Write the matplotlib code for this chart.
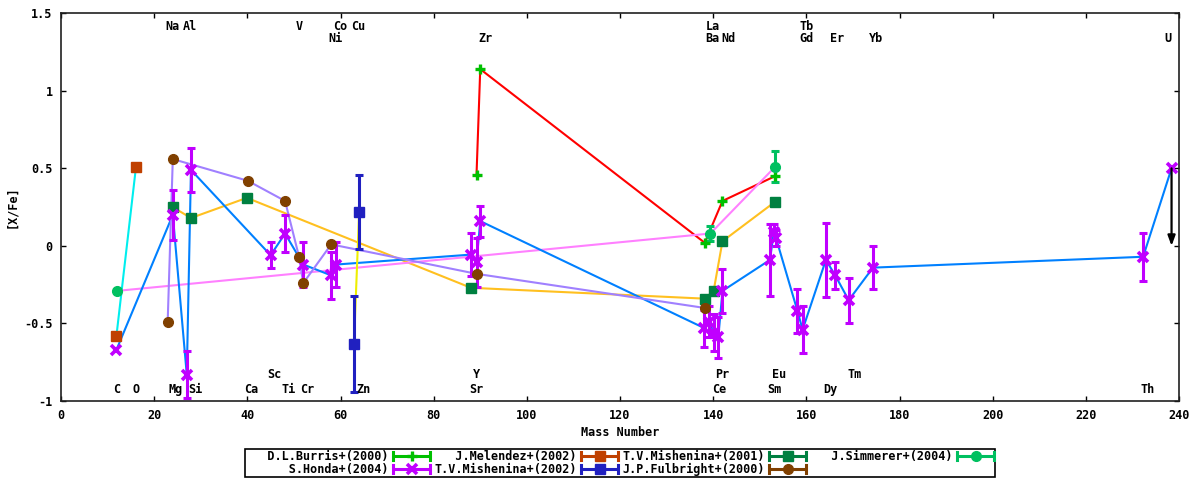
import matplotlib
matplotlib.use('Agg')
import matplotlib.pyplot as plt
import numpy as np
from matplotlib.legend_handler import HandlerBase
from matplotlib.lines import Line2D
from matplotlib.ticker import FuncFormatter

# %%
# values (x = mass number, y = [X/Fe])
burris_x = [89.2, 90.0, 138.2, 142.0, 153.3]
burris_y = [0.46, 1.14, 0.02, 0.29, 0.45]

melendez_x = [11.9, 16.1]
melendez_y = [-0.58, 0.51]

mish01_x = [24.0, 27.9, 39.9, 88.0, 138.2, 140.1, 142.0, 153.3]
mish01_y = [0.25, 0.18, 0.31, -0.27, -0.34, -0.29, 0.03, 0.285]

simmerer_x = [12.0, 139.4, 153.3]
simmerer_y = [-0.29, 0.08, 0.51]
simmerer_err = [0.0, 0.05, 0.10]

honda_x = [11.9, 24.0, 27.0, 27.9, 45.0, 48.1, 52.0, 58.0, 59.1,
           88.0, 89.2, 90.0, 138.1, 139.1, 140.1, 141.1, 142.0,
           152.2, 153.0, 153.5, 158.1, 159.2, 164.2, 166.2, 169.1, 174.3,
           232.3, 238.4]
honda_y = [-0.67, 0.20, -0.83, 0.49, -0.06, 0.08, -0.12, -0.19, -0.12,
           -0.056, -0.106, 0.16, -0.53, -0.49, -0.56, -0.59, -0.29,
           -0.09, 0.09, 0.05, -0.42, -0.54, -0.09, -0.19, -0.35, -0.14,
           -0.07, 0.50]
honda_err = [0.0, 0.16, 0.15, 0.14, 0.085, 0.12, 0.145, 0.15, 0.145,
             0.14, 0.16, 0.10, 0.12, 0.10, 0.12, 0.13, 0.14,
             0.23, 0.05, 0.05, 0.14, 0.15, 0.24, 0.085, 0.145, 0.14,
             0.155, 0.0]

mish02_x = [62.9, 64.0]
mish02_y = [-0.63, 0.22]
mish02_err = [0.31, 0.24]

fulbright_x = [22.9, 24.0, 40.1, 48.1, 51.1, 52.0, 58.0, 89.2, 138.2]
fulbright_y = [-0.49, 0.56, 0.42, 0.29, -0.07, -0.24, 0.01, -0.18, -0.40]

# U upper limit arrow
u_limit_x = 238.4
u_limit_from = 0.50
u_limit_to = 0.0

# element names and where they sit
top1_names = ['Na', 'Al', 'V', 'Co', 'Cu', 'La', 'Tb']
top1_x = [24.0, 27.7, 51.2, 60.0, 63.9, 139.9, 160.1]
top2_names = ['Ni', 'Zr', 'Ba', 'Nd', 'Gd', 'Er', 'Yb', 'U']
top2_x = [59.0, 91.1, 139.9, 143.3, 160.1, 166.6, 175.0, 237.7]
bot1_names = ['Sc', 'Y', 'Pr', 'Eu', 'Tm']
bot1_x = [45.8, 89.2, 142.0, 154.1, 170.3]
bot2_names = ['C', 'O', 'Mg', 'Si', 'Ca', 'Ti', 'Cr', 'Zn', 'Sr', 'Ce', 'Sm', 'Dy', 'Th']
bot2_x = [12.0, 16.1, 24.7, 28.8, 40.9, 48.8, 52.9, 64.9, 89.2, 141.2, 153.2, 165.2, 233.3]

x_ticks = list(range(0, 241, 20))
y_ticks = [-1, -0.5, 0, 0.5, 1, 1.5]

FONT = dict(family='DejaVu Sans Mono', weight='bold', size=8.5)


# %%
class HErrHandler(HandlerBase):
    """gnuplot style key sample: |--o--|"""

    def create_artists(self, legend, orig, xdescent, ydescent, width, height,
                       fontsize, trans):
        color = orig.get_color()
        y = (height - ydescent) / 2
        x0, x1 = -xdescent, width - xdescent
        cap = 3.0
        arts = [
            Line2D([x0, x1], [y, y], color=color, lw=2.2, solid_capstyle='butt'),
            Line2D([x0, x0], [y - cap, y + cap], color=color, lw=2.2),
            Line2D([x1, x1], [y - cap, y + cap], color=color, lw=2.2),
            Line2D([(x0 + x1) / 2], [y], ls='none', marker=orig.get_marker(),
                   ms=orig.get_markersize(), mew=orig.get_markeredgewidth(),
                   color=color),
        ]
        for a in arts:
            a.set_transform(trans)
        return arts


def plot_set(ax, x, y, mcolor, lcolor, marker, ms, err=None, mew=1.0):
    ax.plot(x, y, color=lcolor, lw=1.5, zorder=2)
    if err is not None:
        x_a, y_a, e_a = np.array(x), np.array(y), np.array(err)
        keep = e_a > 0
        ax.errorbar(x_a[keep], y_a[keep], yerr=e_a[keep], fmt='none',
                    ecolor=mcolor, elinewidth=2.2, capsize=3.0, capthick=2.2,
                    zorder=3)
    ax.plot(x, y, ls='none', marker=marker, ms=ms, mew=mew, color=mcolor,
            zorder=4)
    return Line2D([], [], color=mcolor, marker=marker, ms=ms, mew=mew)


# %%
fig = plt.figure(figsize=(12, 4.8), dpi=100)
ax = fig.add_axes([61 / 1200, 79 / 480, 1118 / 1200, 387.7 / 480])

h_burris = plot_set(ax, burris_x, burris_y, '#00c000', '#ff0000', '+', 7, mew=2.4)
h_melendez = plot_set(ax, melendez_x, melendez_y, '#c04000', '#00eeee', 's', 7)
h_mish01 = plot_set(ax, mish01_x, mish01_y, '#008040', '#ffc020', 's', 7)
h_simmerer = plot_set(ax, simmerer_x, simmerer_y, '#00c060', '#ff80ff', 'o', 7,
                      err=simmerer_err)
h_honda = plot_set(ax, honda_x, honda_y, '#c000ff', '#0080ff', 'x', 6.5,
                   err=honda_err, mew=2.6)
h_mish02 = plot_set(ax, mish02_x, mish02_y, '#2020c0', '#eeee00', 's', 7,
                    err=mish02_err)
h_fulbright = plot_set(ax, fulbright_x, fulbright_y, '#804000', '#a080ff', 'o', 7)

ax.annotate('', xy=(u_limit_x, u_limit_to), xytext=(u_limit_x, u_limit_from),
            arrowprops=dict(arrowstyle='-|>,head_width=0.22,head_length=0.6',
                            color='black', lw=1.6, shrinkA=0, shrinkB=0,
                            mutation_scale=10),
            zorder=5)

for names, xs, yy in [(top1_names, top1_x, 1.415), (top2_names, top2_x, 1.338),
                      (bot1_names, bot1_x, -0.83), (bot2_names, bot2_x, -0.926)]:
    for name, xv in zip(names, xs):
        ax.text(xv, yy, name, ha='center', va='center', **FONT)

ax.set_xlim(0, 240)
ax.set_ylim(-1, 1.5)
ax.set_xticks(x_ticks)
ax.set_yticks(y_ticks)
ax.yaxis.set_major_formatter(FuncFormatter(lambda v, p: f'{v:g}'))
ax.tick_params(direction='in', length=3.5, width=1, top=True, right=True,
               pad=6)
for lab in ax.get_xticklabels() + ax.get_yticklabels():
    lab.set_fontproperties(FONT)
for sp in ax.spines.values():
    sp.set_linewidth(1.2)
    sp.set_color('#202020')

# axis titles placed like gnuplot does
fig.text(620 / 1200, 1 - 433 / 480, 'Mass Number', ha='center', va='center', **FONT)
fig.text(12 / 1200, 1 - 207 / 480, '[X/Fe]', rotation=90, ha='center',
         va='center', **FONT)

handles = [h_burris, h_honda, h_melendez, h_mish02, h_mish01, h_fulbright, h_simmerer]
labels = ['D.L.Burris+(2000)', 'S.Honda+(2004)', 'J.Melendez+(2002)',
          'T.V.Mishenina+(2002)', 'T.V.Mishenina+(2001)', 'J.P.Fulbright+(2000)',
          'J.Simmerer+(2004)']
labels = [s.rjust(20) for s in labels]
leg = fig.legend(handles, labels, loc='upper center',
                 bbox_to_anchor=(620 / 1200, 1 - 449 / 480), ncol=4,
                 markerfirst=False, handler_map={Line2D: HErrHandler()},
                 handlelength=3.1, handletextpad=0.4, columnspacing=0.35,
                 labelspacing=0.0, borderpad=0.1, borderaxespad=0,
                 fancybox=False, framealpha=1, edgecolor='black', prop=FONT)
leg.get_frame().set_linewidth(1.2)

fig.savefig('out.png', dpi=100)
